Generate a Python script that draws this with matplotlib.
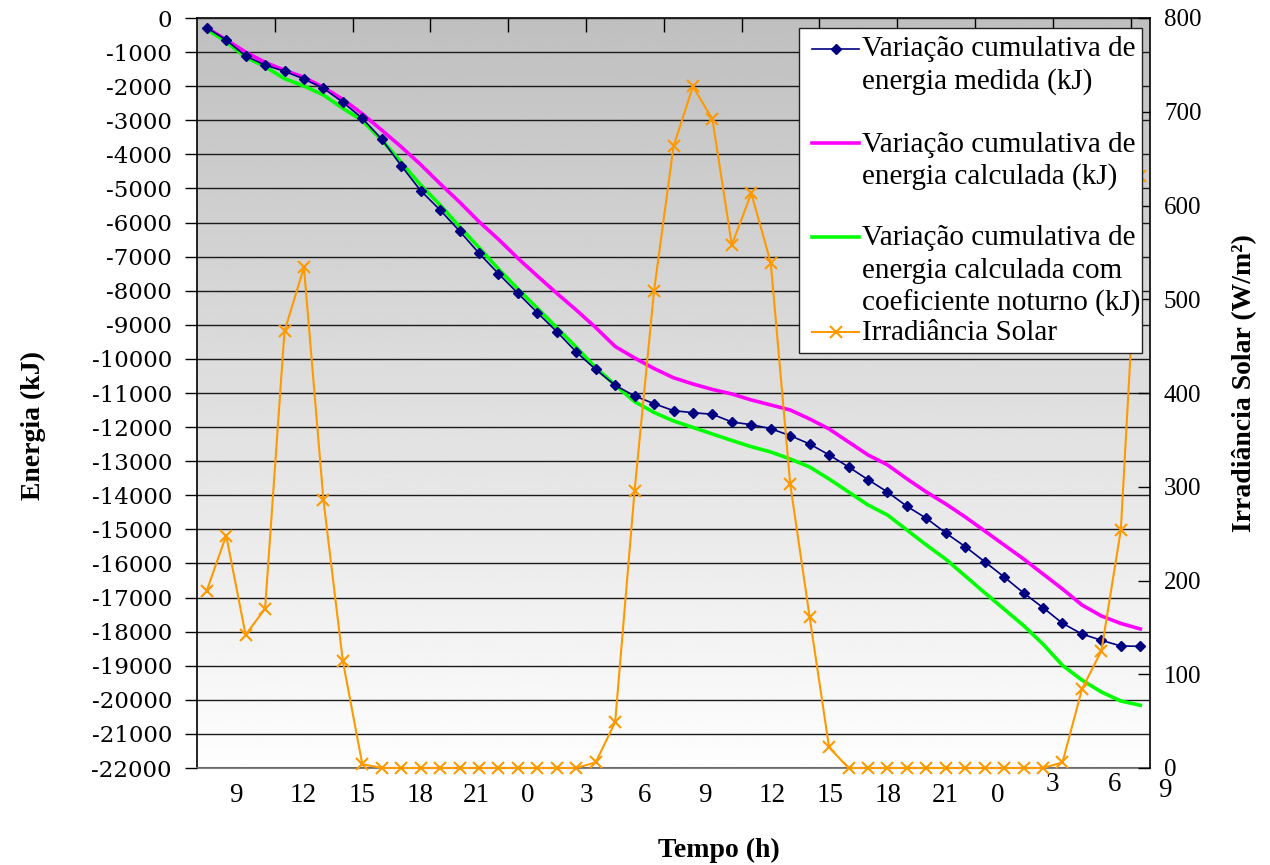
import numpy as np
import matplotlib
matplotlib.use("Agg")
import matplotlib.pyplot as plt
from matplotlib.lines import Line2D
from matplotlib.patches import Rectangle

# ---------------- data ----------------
measured = [-284, -645, -1115, -1379, -1563, -1789, -2062, -2473, -2942, -3558,
            -4332, -5065, -5632, -6250, -6900, -7500, -8075, -8644, -9201, -9797,
            -10310, -10773, -11087, -11313, -11518, -11577, -11624, -11850, -11929, -12046,
            -12251, -12495, -12817, -13169, -13542, -13903, -14323, -14675, -15106, -15508,
            -15948, -16397, -16866, -17297, -17755, -18069, -18254, -18421, -18430]

calculated = [-284, -640, -1000, -1300, -1530, -1740, -2033, -2385, -2810, -3290,
              -3780, -4300, -4860, -5400, -5974, -6491, -7048, -7567, -8075, -8565,
              -9080, -9635, -9973, -10281, -10553, -10735, -10896, -11028, -11204, -11351,
              -11498, -11762, -12055, -12436, -12817, -13107, -13518, -13903, -14255, -14636,
              -15047, -15458, -15869, -16309, -16749, -17218, -17540, -17760, -17921]

night_coef = [-330, -695, -1150, -1428, -1780, -1995, -2258, -2650, -3011, -3579,
              -4233, -4899, -5485, -6121, -6736, -7362, -7949, -8515, -9084, -9659,
              -10257, -10765, -11254, -11571, -11820, -12011, -12202, -12393, -12575, -12730,
              -12935, -13170, -13522, -13903, -14284, -14578, -15018, -15458, -15875, -16367,
              -16860, -17341, -17822, -18366, -18990, -19420, -19771, -20035, -20160]

irradiance = [189, 248, 142, 170, 466, 534, 286, 114, 4, 0,
              0, 0, 0, 0, 0, 0, 0, 0, 0, 0,
              6, 49, 296, 509, 663, 727, 692, 558, 613, 539,
              303, 161, 22, 0, 0, 0, 0, 0, 0, 0,
              0, 0, 0, 0, 6, 84, 125, 254, 631]

hour_labels = ["9", "12", "15", "18", "21", "0", "3", "6", "9",
               "12", "15", "18", "21", "0", "3", "6", "9"]

legend_labels = [["Variação cumulativa de", "energia medida (kJ)"],
                 ["Variação cumulativa de", "energia calculada (kJ)"],
                 ["Variação cumulativa de", "energia calculada com",
                  "coeficiente noturno (kJ)"],
                 ["Irradiância Solar"]]

# ---------------- layout constants ----------------
W, H = 1270, 865
label_pos = [1.51, 4.95, 8.0, 10.98, 13.85, 16.5, 19.54, 22.54, 25.6,
             29.08, 32.04, 35.06, 37.97, 40.67, 43.46, 46.67, 49.27]
label_raise = [0] * 14 + [8, 8, 3.5]          # points
leg_box = (799, 28, 1142, 353)                 # px: left, top, right, bottom
leg_handle_y = [49, 143, 237, 332]             # px
leg_baselines = [[56, 89], [152, 184], [245, 278, 311], [340]]
leg_handle_x = (812, 859)
leg_text_x = 862

plt.rcParams['font.family'] = ['Liberation Serif', 'DejaVu Serif']
plt.rcParams['axes.unicode_minus'] = False

C_MEAS = '#000080'
C_CALC = '#FF00FF'
C_NIGHT = '#00FF00'
C_IRR = '#FF9900'

fig = plt.figure(figsize=(W / 100, H / 100), dpi=100)
ax = fig.add_axes([197 / W, 1 - 768 / H, 953 / W, 750 / H])


def fx(px):
    return px / W


def fy(py):
    return 1 - py / H


# gradient background
grad = np.linspace(0.75, 0.995, 256).reshape(-1, 1)
ax.imshow(grad, cmap='gray', vmin=0, vmax=1, aspect='auto',
          extent=(0, 1, 0, 1), transform=ax.transAxes, zorder=0,
          interpolation='bilinear')

x = np.arange(len(measured))
ax.plot(x, calculated, color=C_CALC, lw=2.6, zorder=3)
ax.plot(x, night_coef, color=C_NIGHT, lw=2.6, zorder=3)
ax.plot(x, measured, color=C_MEAS, lw=1.2, marker='D', ms=5.5, zorder=4)

ax.set_xlim(-0.5, 48.5)
ax.set_ylim(-22000, 0)
yt = list(range(-22000, 1, 1000))
ax.set_yticks(yt)
ax.set_yticklabels([str(v) for v in yt], fontfamily='DejaVu Serif', fontsize=16.5)
ax.yaxis.grid(True, color='#1a1a1a', lw=1.0)
ax.set_axisbelow(False)
for gl in ax.get_ygridlines():
    gl.set_zorder(1)

ax.set_xticks(np.arange(3.5, 48, 4))
ax.tick_params(axis='x', bottom=False, top=True, labelbottom=False,
               labeltop=False, direction='in', length=10, width=1.0, color='black')
ax.tick_params(axis='y', direction='out', length=9, width=1.0, pad=9)

for side in ['left', 'top']:
    ax.spines[side].set_color('black')
    ax.spines[side].set_linewidth(1.2)
ax.spines['bottom'].set_color('#808080')
ax.spines['bottom'].set_linewidth(1.5)
ax.spines['right'].set_visible(False)

for lab, pos, r in zip(hour_labels, label_pos, label_raise):
    ax.annotate(lab, xy=(pos, 0), xycoords=('data', 'axes fraction'),
                xytext=(0, -11 + r), textcoords='offset points',
                ha='center', va='top', fontsize=19.5, annotation_clip=False)

ax.set_ylabel('Energia (kJ)', fontsize=20, fontweight='bold')
ax.yaxis.set_label_coords(-0.158, 0.457)
ax.set_xlabel('Tempo (h)', fontsize=20, fontweight='bold')
ax.xaxis.set_label_position('bottom')
ax.xaxis.set_label_coords(0.548, -0.093)

# secondary axis
ax2 = ax.twinx()
ax2.plot(x, irradiance, color=C_IRR, lw=1.5, marker='x', ms=9, mew=1.5,
         zorder=3, clip_on=False)
ax2.set_ylim(0, 800)
ax2.set_yticks(range(0, 801, 100))
ax2.tick_params(axis='y', direction='in', length=9, width=1.0, pad=10,
                labelsize=18)
ax2.spines['right'].set_color('black')
ax2.spines['right'].set_linewidth(1.2)
for side in ['left', 'top', 'bottom']:
    ax2.spines[side].set_visible(False)
ax2.set_ylabel('Irradiância Solar (W/m²)', fontsize=20, fontweight='bold')
ax2.yaxis.set_label_coords(1.086, 0.513)

# legend box (Excel-style: handle aligned with first text line)
l, t, r, b = leg_box
fig.add_artist(Rectangle((fx(l), fy(b)), fx(r) - fx(l), fy(t) - fy(b),
                         transform=fig.transFigure, facecolor='white',
                         edgecolor='#222222', lw=1.0, zorder=20))
handle_styles = [dict(color=C_MEAS, lw=1.2, marker='D', ms=5.5, markevery=[1]),
                 dict(color=C_CALC, lw=2.6),
                 dict(color=C_NIGHT, lw=2.6),
                 dict(color=C_IRR, lw=1.5, marker='x', ms=9, mew=1.5, markevery=[1])]
for hy, style, lines, bases in zip(leg_handle_y, handle_styles,
                                   legend_labels, leg_baselines):
    hx0, hx1 = leg_handle_x
    fig.add_artist(Line2D([fx(hx0), fx((hx0 + hx1) / 2), fx(hx1)],
                          [fy(hy)] * 3, transform=fig.transFigure,
                          zorder=21, **style))
    for txt, by in zip(lines, bases):
        fig.text(fx(leg_text_x), fy(by), txt, fontsize=21, ha='left',
                 va='baseline', zorder=22)

fig.savefig('out.png', dpi=100)
